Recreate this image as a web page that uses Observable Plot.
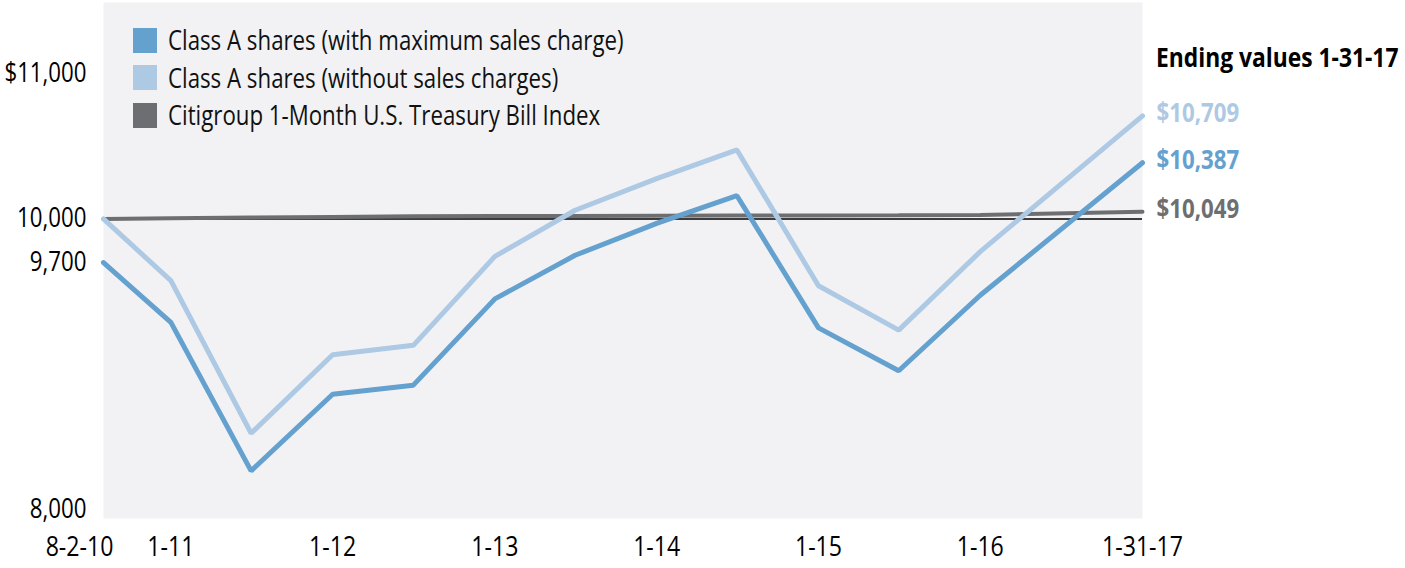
<!DOCTYPE html>
<html>
<head>
<meta charset="utf-8">
<script src="https://cdn.jsdelivr.net/npm/d3@7"></script>
<script src="https://cdn.jsdelivr.net/npm/@observablehq/plot@0.6"></script>
<style>
  html, body { margin: 0; padding: 0; background: #fff; }
  #wrap { position: relative; width: 1405px; height: 568px; font-family: "Open Sans", sans-serif; }
  #legend { position: absolute; left: 133px; top: 27px; }
  .row { display: flex; align-items: center; height: 26px; margin-bottom: 11.5px; }
  .sw { width: 24px; height: 25px; margin-right: 11px; flex: none; }
  .lab { display: inline-block; font-size: 26.5px; line-height: 26px; white-space: nowrap; transform: scaleX(0.84); transform-origin: left center; color: #111; }
  #endhead { position: absolute; left: 1156px; top: 43px; font-size: 27.5px; line-height: 28px; font-weight: bold; white-space: nowrap; transform: scaleX(0.83); transform-origin: left center; color: #000; }
</style>
</head>
<body>
<div id="wrap">
  <div id="chart"></div>
  <div id="legend"></div>
  <div id="endhead"></div>
</div>
<script>
// ---- data ----
const dates = ["2010-08-02","2011-01-01","2011-07-01","2012-01-01","2012-07-01","2013-01-01","2013-07-01","2014-01-01","2014-07-01","2015-01-01","2015-07-01","2016-01-01","2017-01-01"];
const withCharge    = [9700, 9288, 8266, 8793, 8856, 9450, 9750, 9970, 10160, 9250, 8955, 9475, 10387];
const withoutCharge = [10000, 9575, 8525, 9065, 9130, 9742, 10060, 10278, 10475, 9540, 9235, 9775, 10709];
const tbill         = [10000, 10005, 10010, 10014, 10018, 10020, 10021, 10022, 10023, 10024, 10025, 10028, 10049];
const seriesNames = ["Class A shares (with maximum sales charge)", "Class A shares (without sales charges)", "Citigroup 1-Month U.S. Treasury Bill Index"];
const endLabels = ["$10,387", "$10,709", "$10,049"];
const endHeading = "Ending values 1-31-17";
const xTickDates = ["2010-08-02","2011-01-01","2012-01-01","2013-01-01","2014-01-01","2015-01-01","2016-01-01","2017-01-01"];
const xTickLabels = ["8-2-10","1-11","1-12","1-13","1-14","1-15","1-16","1-31-17"];
const yTicks = [8000, 9700, 10000, 11000];
const yTickLabels = ["8,000", "9,700", "10,000", "$11,000"];
const baseline = [10000];

// ---- styles ----
const colors = ["#64a1cf", "#adc9e4", "#6d6e71"];
const widths = [5, 5, 4];

const parse = d3.utcParse("%Y-%m-%d");
const allSeries = [withCharge, withoutCharge, tbill];
const rows = [];
allSeries.forEach((s, i) => s.forEach((v, j) => rows.push({series: seriesNames[i], idx: i, date: parse(dates[j]), value: v})));
const lastRows = allSeries.map((s, i) => ({idx: i, date: parse(dates[dates.length - 1]), value: s[s.length - 1], text: endLabels[i]}));
const xt = xTickDates.map(parse);
const fmtX = d => xTickLabels[xt.findIndex(t => +t === +d)];
const fmtY = d => yTickLabels[yTicks.indexOf(d)];

const lineMark = i => Plot.line(rows.filter(r => r.idx === i), {
  x: "date", y: "value", stroke: colors[i], strokeWidth: widths[i],
  strokeLinejoin: "miter", strokeLinecap: "round", curve: "linear"
});

const chart = Plot.plot({
  width: 1405, height: 568,
  marginLeft: 103, marginRight: 263, marginTop: 2, marginBottom: 50,
  style: {fontFamily: "'Open Sans', sans-serif", fontSize: "26px", background: "#fff", color: "#000"},
  x: {type: "utc", domain: [parse(dates[0]), parse(dates[dates.length - 1])], label: null},
  y: {domain: [7938, 11490], label: null},
  marks: [
    Plot.frame({fill: "#f2f2f4", stroke: "none"}),
    Plot.ruleY(baseline, {stroke: "#000", strokeWidth: 1.5}),
    lineMark(2),
    lineMark(1),
    lineMark(0),
    Plot.text(lastRows, {x: "date", y: "value", text: "text", dx: 14, dy: -2, textAnchor: "start",
      fill: d => colors[d.idx], fontWeight: "bold", fontSize: 26.5}),
    Plot.axisY(yTicks, {tickSize: 0, tickPadding: 17, tickFormat: fmtY, fontSize: 26.5, label: null}),
    Plot.axisX(xt.slice(0, 1), {tickSize: 0, tickPadding: 18, tickFormat: fmtX, fontSize: 27.5, dx: -24, label: null}),
    Plot.axisX(xt.slice(1), {tickSize: 0, tickPadding: 18, tickFormat: fmtX, fontSize: 27.5, label: null})
  ]
});
document.getElementById("chart").appendChild(chart);

// condense svg text horizontally (the original uses a condensed face)
chart.querySelectorAll("text").forEach(t => {
  const w = t.getComputedTextLength();
  if (w > 0) {
    t.setAttribute("textLength", (w * 0.84).toFixed(1));
    t.setAttribute("lengthAdjust", "spacingAndGlyphs");
  }
});

// legend
const legend = document.getElementById("legend");
seriesNames.forEach((name, i) => {
  const row = document.createElement("div");
  row.className = "row";
  const sw = document.createElement("div");
  sw.className = "sw";
  sw.style.background = colors[i];
  const lab = document.createElement("span");
  lab.className = "lab";
  lab.textContent = name;
  row.appendChild(sw);
  row.appendChild(lab);
  legend.appendChild(row);
});
document.getElementById("endhead").textContent = endHeading;
</script>
</body>
</html>
